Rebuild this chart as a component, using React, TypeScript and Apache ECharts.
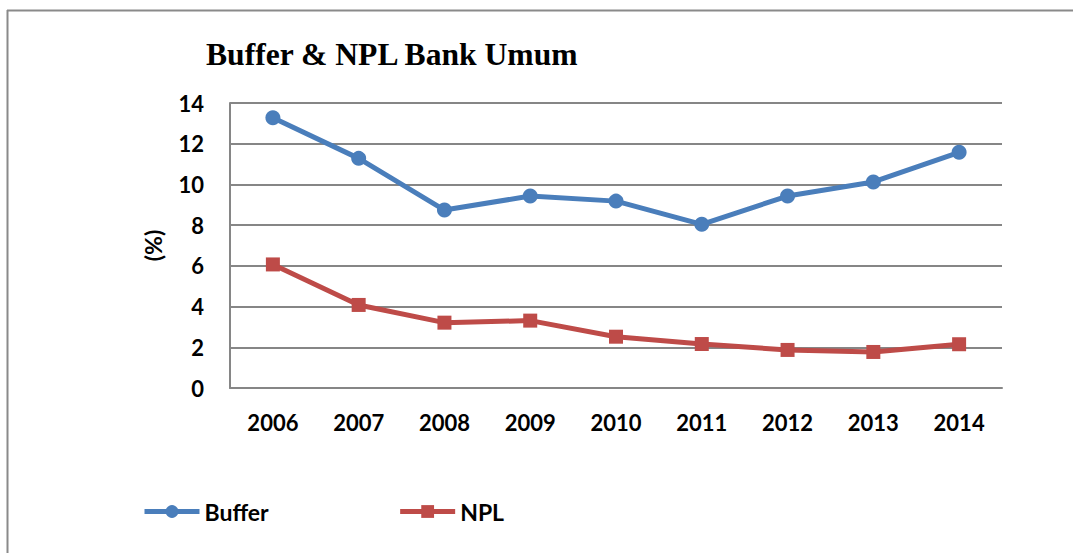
import React, { useEffect, useRef } from "react";
import * as echarts from "echarts";

const years = ["2006", "2007", "2008", "2009", "2010", "2011", "2012", "2013", "2014"];
const bufferValues = [13.28, 11.28, 8.74, 9.43, 9.18, 8.04, 9.43, 10.12, 11.58];
const nplValues = [6.07, 4.08, 3.21, 3.31, 2.52, 2.16, 1.87, 1.77, 2.15];
const yTicks = { min: 0, max: 14, interval: 2 };

const LABEL_FONT = "Lato, 'Open Sans', sans-serif";

export default function App() {
  const ref = useRef<HTMLDivElement>(null);
  useEffect(() => {
    document.body.style.margin = "0";
    const chart = echarts.init(ref.current!, undefined, { renderer: "svg" });
    chart.setOption({
      animation: false,
      backgroundColor: "#ffffff",
      title: {
        text: "Buffer & NPL Bank Umum",
        left: 201,
        top: 33,
        textStyle: {
          fontFamily: "'Liberation Serif', 'Times New Roman', serif",
          fontWeight: "bold",
          fontSize: 31.6,
          color: "#000",
        },
      },
      graphic: [
        { type: "line", shape: { x1: 7, y1: 10.5, x2: 1073, y2: 10.5 }, style: { stroke: "#8a8a8a", lineWidth: 2 } },
        { type: "line", shape: { x1: 7.5, y1: 10, x2: 7.5, y2: 553 }, style: { stroke: "#8a8a8a", lineWidth: 2 } },
      ],
      legend: {
        left: 142,
        top: 500,
        padding: 0,
        itemWidth: 55,
        itemHeight: 16,
        itemGap: 129,
        lineStyle: { width: 5 },
        textStyle: { fontFamily: LABEL_FONT, fontWeight: "bold", fontSize: 23, color: "#000" },
        data: ["Buffer", "NPL"],
      },
      grid: { left: 230, top: 103, right: 71, bottom: 165 },
      xAxis: {
        type: "category",
        data: years,
        boundaryGap: true,
        axisLine: { show: true, lineStyle: { color: "#868686", width: 2 } },
        axisTick: { show: false },
        axisLabel: { margin: 23, fontFamily: LABEL_FONT, fontWeight: "bold", fontSize: 22, color: "#000" },
      },
      yAxis: {
        type: "value",
        min: yTicks.min,
        max: yTicks.max,
        interval: yTicks.interval,
        name: "(%)",
        nameLocation: "middle",
        nameGap: 66,
        nameRotate: 90,
        nameTextStyle: { fontFamily: LABEL_FONT, fontWeight: "bold", fontSize: 23, color: "#000" },
        axisLine: { show: true, lineStyle: { color: "#868686", width: 2 } },
        axisTick: { show: false },
        axisLabel: { margin: 26, fontFamily: LABEL_FONT, fontWeight: "bold", fontSize: 22, color: "#000" },
        splitLine: { show: true, lineStyle: { color: "#868686", width: 2 } },
      },
      series: [
        {
          name: "Buffer",
          type: "line",
          data: bufferValues,
          symbol: "circle",
          symbolSize: 15,
          itemStyle: { color: "#4a7ebb" },
          lineStyle: { color: "#4a7ebb", width: 5 },
        },
        {
          name: "NPL",
          type: "line",
          data: nplValues,
          symbol: "rect",
          symbolSize: 14,
          itemStyle: { color: "#be4b48" },
          lineStyle: { color: "#be4b48", width: 5 },
        },
      ],
    });
    return () => chart.dispose();
  }, []);
  return <div ref={ref} style={{ position: "fixed", left: 0, top: 0, width: 1073, height: 553 }} />;
}
